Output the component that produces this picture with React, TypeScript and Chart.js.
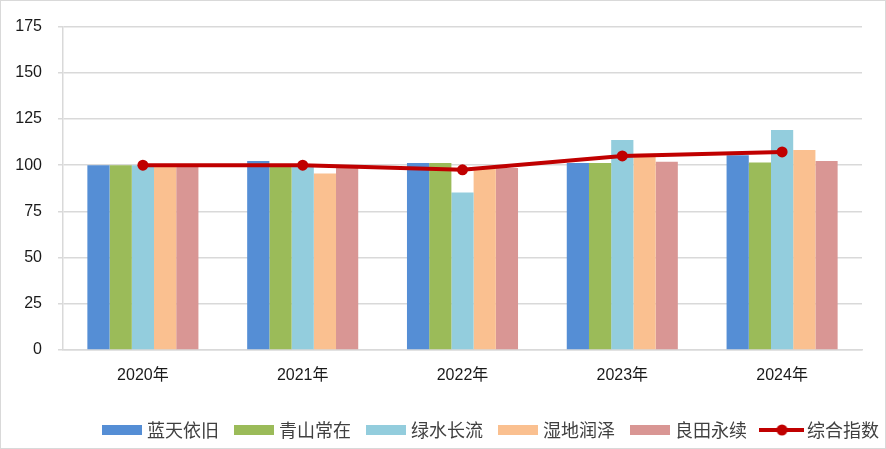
import React, { useEffect, useRef } from "react";
import { Chart, registerables } from "chart.js";

Chart.register(...registerables);

const categories = ["2020年", "2021年", "2022年", "2023年", "2024年"];
const seriesNames = ["蓝天依旧", "青山常在", "绿水长流", "湿地润泽", "良田永续"];
const blueSky = [100, 102.3, 101.2, 101.2, 105.4];
const greenHill = [100, 100, 101.2, 101.2, 101.4];
const clearWater = [100, 100, 85.2, 113.6, 119];
const wetland = [100, 95.5, 98, 106.2, 108.2];
const farmland = [100, 99, 98.5, 101.8, 102.3];
const compositeName = "综合指数";
const composite = [100, 100, 97.5, 105, 107.2];
const yTicks = [0, 25, 50, 75, 100, 125, 150, 175];

const barColors = ["#558ED5", "#9BBB59", "#93CDDD", "#FAC090", "#D99694"];
const lineColor = "#C00000";

function makeRectIcon(color: string) {
  const c = document.createElement("canvas");
  c.width = 40;
  c.height = 10;
  const ctx = c.getContext("2d")!;
  ctx.fillStyle = color;
  ctx.fillRect(0, 0, 40, 10);
  return c;
}

function makeLineIcon(color: string) {
  const c = document.createElement("canvas");
  c.width = 45;
  c.height = 12;
  const ctx = c.getContext("2d")!;
  ctx.strokeStyle = color;
  ctx.lineWidth = 4;
  ctx.beginPath();
  ctx.moveTo(0, 6);
  ctx.lineTo(45, 6);
  ctx.stroke();
  ctx.fillStyle = color;
  ctx.beginPath();
  ctx.arc(22.5, 6, 5.5, 0, Math.PI * 2);
  ctx.fill();
  return c;
}

export default function App() {
  const ref = useRef<HTMLCanvasElement | null>(null);

  useEffect(() => {
    document.body.style.margin = "0";
    const barSeries = [blueSky, greenHill, clearWater, wetland, farmland];
    const icons = [...barColors.map(makeRectIcon), makeLineIcon(lineColor)];

    const legendPlacer = {
      id: "legendPlacer",
      afterLayout(chart: any) {
        const lg = chart.legend;
        if (!lg) return;
        const pad = 19;
        lg.left = 105 - pad;
        lg.right = 1000;
        lg.top = 420 - pad;
        lg.bottom = lg.top + lg.height;
      },
    };

    const chart = new Chart(ref.current!, {
      type: "bar",
      data: {
        labels: categories,
        datasets: [
          ...barSeries.map((d, i) => ({
            type: "bar" as const,
            label: seriesNames[i],
            data: d,
            backgroundColor: barColors[i],
            categoryPercentage: 0.695,
            barPercentage: 1,
            order: 2,
          })),
          {
            type: "line" as const,
            label: compositeName,
            data: composite,
            borderColor: lineColor,
            backgroundColor: lineColor,
            borderWidth: 4,
            pointRadius: 5.5,
            pointBackgroundColor: lineColor,
            pointBorderColor: lineColor,
            pointBorderWidth: 0,
            tension: 0,
            order: 1,
          } as any,
        ],
      },
      options: {
        animation: false,
        responsive: true,
        maintainAspectRatio: false,
        layout: { padding: { top: 22, right: 23, bottom: 0, left: 0 } },
        plugins: {
          tooltip: { enabled: false },
          legend: {
            position: "bottom",
            align: "start",
            labels: {
              usePointStyle: true,
              pointStyleWidth: 32,
              boxWidth: 32,
              boxHeight: 10,
              padding: 19,
              color: "#404040",
              font: { family: "'Noto Sans CJK SC', sans-serif", size: 18 },
              generateLabels: (ch: any) =>
                ch.data.datasets.map((ds: any, i: number) => ({
                  text: ds.label,
                  fillStyle: i < 5 ? barColors[i] : lineColor,
                  strokeStyle: i < 5 ? barColors[i] : lineColor,
                  lineWidth: 0,
                  pointStyle: icons[i],
                  hidden: false,
                  datasetIndex: i,
                  fontColor: "#404040",
                })),
            },
          },
        },
        scales: {
          x: {
            grid: { display: false, drawTicks: false },
            border: { color: "#D9D9D9", width: 1.5 },
            ticks: {
              padding: 16,
              color: "#1a1a1a",
              font: { family: "'Liberation Sans', 'Noto Sans CJK SC', sans-serif", size: 16 },
            },
            afterFit: (s: any) => {
              s.height = 51;
            },
          },
          y: {
            min: 0,
            max: 175,
            afterBuildTicks: (s: any) => {
              s.ticks = yTicks.map((v) => ({ value: v }));
            },
            grid: { color: "#D9D9D9", lineWidth: 1.5, tickLength: 5, drawTicks: true },
            border: { color: "#D9D9D9", width: 1.5 },
            ticks: {
              padding: 16,
              color: "#1a1a1a",
              font: { family: "'Liberation Sans', sans-serif", size: 16 },
            },
            afterFit: (s: any) => {
              s.width = 62;
            },
          },
        },
      },
      plugins: [legendPlacer],
    });
    return () => chart.destroy();
  }, []);

  return (
    <div
      style={{
        position: "absolute",
        left: 0,
        top: 0,
        width: 886,
        height: 449,
        border: "1px solid #D9D9D9",
        boxSizing: "border-box",
        background: "#fff",
      }}
    >
      <div style={{ position: "relative", width: 884, height: 447 }}>
        <canvas ref={ref} />
      </div>
    </div>
  );
}
